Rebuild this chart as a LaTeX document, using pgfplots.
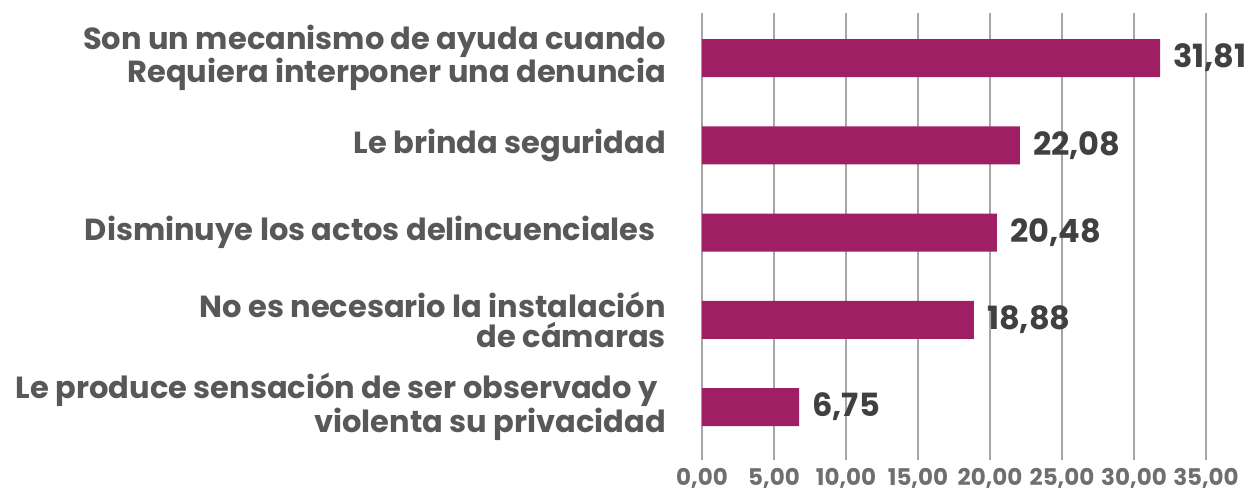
\documentclass[border=0pt]{standalone}
\usepackage{fontspec}
\setmainfont{Poppins}
\usepackage{pgfplots}
\pgfplotsset{compat=1.18}
\definecolor{barc}{HTML}{9E1F63}
\definecolor{gridc}{HTML}{A6A6A8}
\definecolor{labc}{HTML}{404040}
\definecolor{catc}{HTML}{58585A}
\definecolor{tickc}{HTML}{6E6E73}
\begin{document}
\begin{tikzpicture}
\begin{axis}[
  scale only axis,
  width=504pt, height=447.3pt,
  xmin=0, xmax=35, ymin=-0.607, ymax=4.52,
  xtick={0,5,10,15,20,25,30,35},
  xticklabels={{0,00},{5,00},{10,00},{15,00},{20,00},{25,00},{30,00},{35,00}},
  xmajorgrids,
  grid style={gridc, line width=2.7pt},
  axis line style={draw=none},
  major tick length=0pt,
  ytick={0,1,2,3,4},
  yticklabels={
    {Le produce sensación de ser observado y\hspace*{8pt}\\violenta su privacidad},
    {No es necesario la instalación\\de cámaras},
    {Disminuye los actos delincuenciales\hspace*{10pt}},
    {Le brinda seguridad},
    {Son un mecanismo de ayuda cuando\\Requiera interponer una denuncia}},
  yticklabel style={align=right, inner sep=0pt, xshift=-36pt, text=catc,
    font=\fontsize{30.5}{30}\selectfont\bfseries},
  xticklabel style={inner sep=0pt, yshift=-8pt, text=tickc,
    font=\fontsize{23}{25}\selectfont\bfseries},
  xbar, bar width=38pt,
  nodes near coords,
  point meta=explicit symbolic,
  nodes near coords style={anchor=west, inner sep=0pt, xshift=13pt, text=labc,
    font=\fontsize{32}{34}\selectfont\bfseries},
]
\addplot[fill=barc, draw=none] coordinates {
  (6.75,0) [6,75]
  (18.88,1) [18,88]
  (20.48,2) [20,48]
  (22.08,3) [22,08]
  (31.81,4) [31,81]
};
\end{axis}
\pgfresetboundingbox
\path (-702pt,-31pt) rectangle (547pt,460pt);
\end{tikzpicture}
\end{document}
